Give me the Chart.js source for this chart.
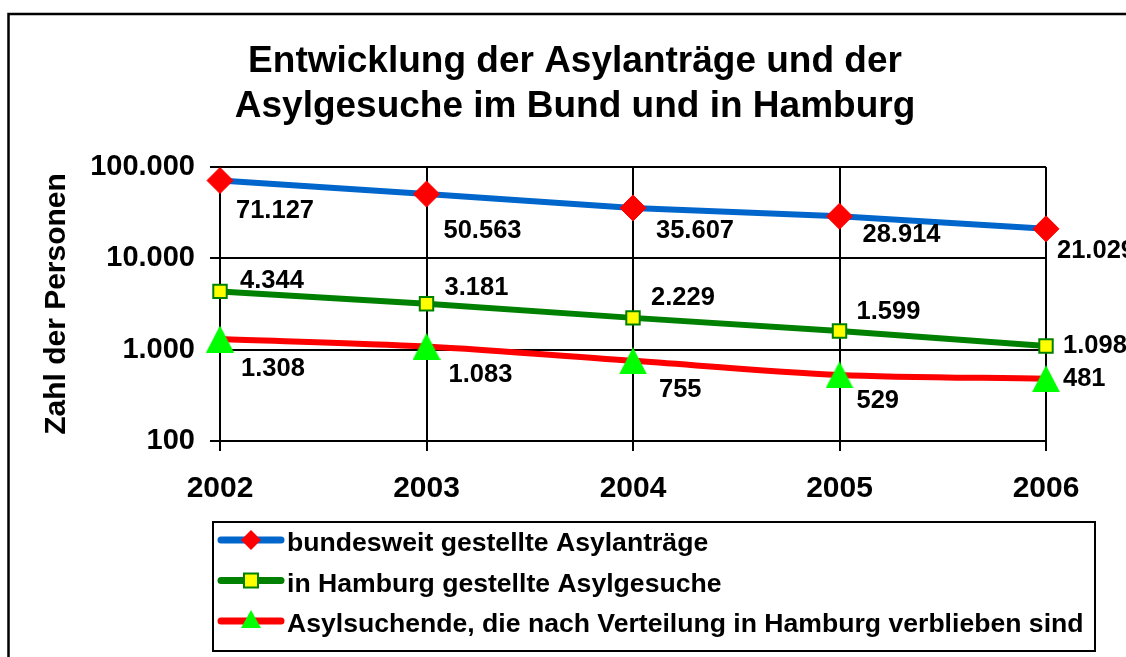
<!DOCTYPE html>
<html lang="de">
<head>
    <meta charset="UTF-8">
    <title>Entwicklung der Asylanträge und der Asylgesuche</title>
    <script src="https://cdn.jsdelivr.net/npm/chart.js"></script>
    <style>
        body { margin: 0; background: #fff; }
        canvas { display: block; }
    </style>
</head>
<body>
    <canvas id="asylChart" width="1126" height="657"></canvas>
    <script>
        // Daten aus der Grafik
        const jahre = ['2002', '2003', '2004', '2005', '2006'];
        const bundAntraege = [71127, 50563, 35607, 28914, 21029];
        const hamburgGesuche = [4344, 3181, 2229, 1599, 1098];
        const hamburgVerblieben = [1308, 1083, 755, 529, 481];
        const yTicks = [100, 1000, 10000, 100000];

        const titelZeilen = ['Entwicklung der Asylanträge und der', 'Asylgesuche im Bund und in Hamburg'];
        const serienNamen = [
            'bundesweit gestellte Asylanträge',
            'in Hamburg gestellte Asylgesuche',
            'Asylsuchende, die nach Verteilung in Hamburg verblieben sind'
        ];

        const FONT = "'Liberation Sans', Arial, sans-serif";

        // Zahlen mit Punkt als Tausendertrennzeichen
        function fmt(v) {
            return String(v).replace(/\B(?=(\d{3})+(?!\d))/g, '.');
        }

        // grünes Dreieck als Punktsymbol
        function dreieck(w, h, farbe) {
            const c = document.createElement('canvas');
            c.width = w;
            c.height = h;
            const g = c.getContext('2d');
            g.fillStyle = farbe;
            g.beginPath();
            g.moveTo(w / 2, 0);
            g.lineTo(w, h);
            g.lineTo(0, h);
            g.closePath();
            g.fill();
            return c;
        }
        const dreieckGross = dreieck(28, 27, '#00ff00');
        const dreieckKlein = dreieck(20, 18, '#00ff00');

        // Abstand der Wertbeschriftung vom Punkt (x, y)
        const labelOffsets = [
            [[16, 30], [17, 37], [23, 23], [23, 19], [11, 22]],
            [[20, -10], [18, -16], [18, -20], [17, -19], [17, 0]],
            [[21, 30], [22, 28], [26, 29], [17, 26], [17, 0]]
        ];

        // Rahmen, Titel, Legende und Wertbeschriftungen
        const deko = {
            id: 'deko',
            beforeDraw(chart) {
                const ctx = chart.ctx;
                ctx.save();
                ctx.fillStyle = '#fff';
                ctx.fillRect(0, 0, chart.width, chart.height);
                ctx.strokeStyle = '#000';
                ctx.lineWidth = 2.5;
                ctx.strokeRect(8.5, 14, 1300, 1000);
                ctx.restore();
            },
            afterDraw(chart) {
                const ctx = chart.ctx;
                ctx.save();

                // Titel
                ctx.fillStyle = '#000';
                ctx.font = 'bold 37px ' + FONT;
                ctx.textAlign = 'center';
                ctx.textBaseline = 'middle';
                titelZeilen.forEach((z, i) => ctx.fillText(z, 575, 62 + i * 45));

                // Wertbeschriftungen
                ctx.font = 'bold 25.5px ' + FONT;
                ctx.textAlign = 'left';
                chart.data.datasets.forEach((ds, i) => {
                    chart.getDatasetMeta(i).data.forEach((pt, j) => {
                        const o = labelOffsets[i][j];
                        ctx.fillText(fmt(ds.data[j]), pt.x + o[0], pt.y + o[1]);
                    });
                });

                // Legende
                ctx.lineWidth = 2;
                ctx.strokeStyle = '#000';
                ctx.strokeRect(213, 522, 882, 129);
                ctx.font = 'bold 26.6px ' + FONT;
                ctx.textBaseline = 'alphabetic';
                chart.data.datasets.forEach((ds, i) => {
                    const base = 551 + i * 40.5;
                    const ly = base - 11;
                    ctx.strokeStyle = ds.borderColor;
                    ctx.lineWidth = 7;
                    ctx.lineCap = 'round';
                    ctx.beginPath();
                    ctx.moveTo(221, ly);
                    ctx.lineTo(281, ly);
                    ctx.stroke();
                    if (i === 0) {
                        ctx.fillStyle = '#ff0000';
                        ctx.beginPath();
                        ctx.moveTo(251, ly - 10);
                        ctx.lineTo(261, ly);
                        ctx.lineTo(251, ly + 10);
                        ctx.lineTo(241, ly);
                        ctx.closePath();
                        ctx.fill();
                    } else if (i === 1) {
                        ctx.fillStyle = '#ffff00';
                        ctx.fillRect(244, ly - 7, 14, 14);
                        ctx.strokeStyle = '#008000';
                        ctx.lineWidth = 2;
                        ctx.strokeRect(244, ly - 7, 14, 14);
                    } else {
                        ctx.drawImage(dreieckKlein, 241, ly - 11);
                    }
                    ctx.fillStyle = '#000';
                    ctx.fillText(ds.label, 287, base);
                });
                ctx.restore();
            }
        };

        const ctx = document.getElementById('asylChart').getContext('2d');
        new Chart(ctx, {
            type: 'line',
            data: {
                labels: jahre,
                datasets: [{
                    label: serienNamen[0],
                    data: bundAntraege,
                    borderColor: '#0066cc',
                    borderWidth: 6,
                    pointStyle: 'rectRot',
                    pointRadius: 13,
                    pointBackgroundColor: '#ff0000',
                    pointBorderColor: '#ff0000',
                    pointBorderWidth: 1,
                    clip: false
                }, {
                    label: serienNamen[1],
                    data: hamburgGesuche,
                    borderColor: '#008000',
                    borderWidth: 6,
                    pointStyle: 'rect',
                    pointRadius: 9.5,
                    pointBackgroundColor: '#ffff00',
                    pointBorderColor: '#008000',
                    pointBorderWidth: 2,
                    clip: false
                }, {
                    label: serienNamen[2],
                    data: hamburgVerblieben,
                    borderColor: '#ff0000',
                    borderWidth: 6,
                    tension: 0.3,
                    pointStyle: dreieckGross,
                    clip: false
                }]
            },
            options: {
                responsive: false,
                animation: false,
                layout: { padding: { top: 167, left: 10, right: 80, bottom: 10 } },
                plugins: {
                    legend: { display: false },
                    title: { display: false },
                    tooltip: { enabled: false }
                },
                scales: {
                    x: {
                        type: 'category',
                        offset: false,
                        grid: { color: '#000', lineWidth: 2, tickLength: 10, tickColor: '#000' },
                        border: { color: '#000', width: 2 },
                        ticks: {
                            color: '#000',
                            padding: 20,
                            font: { family: FONT, size: 30, weight: 'bold' }
                        },
                        afterFit(scale) { scale.height = 657 - 441 - 10; }
                    },
                    y: {
                        type: 'logarithmic',
                        min: yTicks[0],
                        max: yTicks[yTicks.length - 1],
                        grid: { color: '#000', lineWidth: 2, tickLength: 10, tickColor: '#000' },
                        border: { color: '#000', width: 2 },
                        ticks: {
                            color: '#000',
                            padding: 15,
                            font: { family: FONT, size: 29, weight: 'bold' },
                            callback: (v) => fmt(v)
                        },
                        title: {
                            display: true,
                            text: 'Zahl der Personen',
                            color: '#000',
                            font: { family: FONT, size: 30, weight: 'bold' },
                            padding: { top: 29, bottom: 0 }
                        },
                        afterBuildTicks(scale) {
                            scale.ticks = yTicks.map(v => ({ value: v }));
                        },
                        afterFit(scale) { scale.width = 210; }
                    }
                }
            },
            plugins: [deko]
        });
    </script>
</body>
</html>
